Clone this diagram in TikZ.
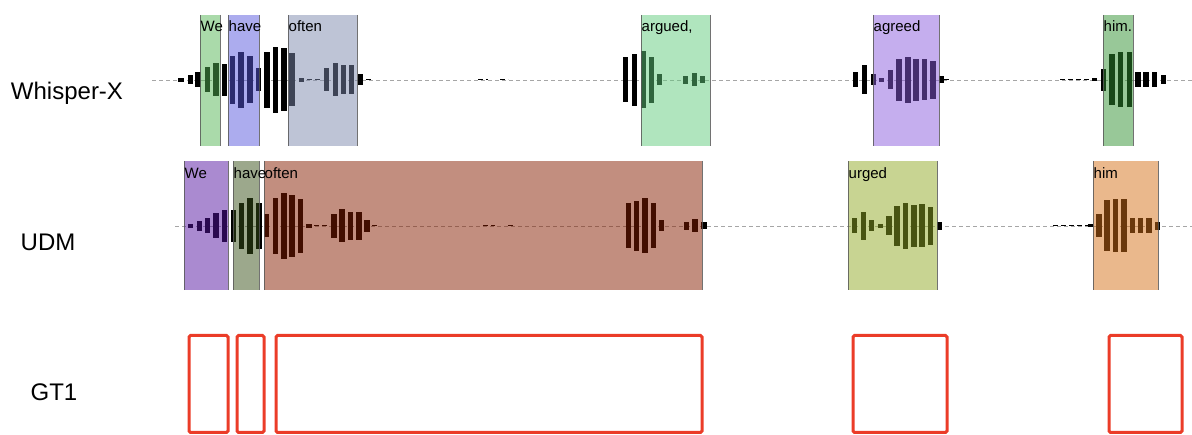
\documentclass[tikz,border=0pt]{standalone}
\usepackage{fontspec}
\setmainfont{Liberation Sans}
\definecolor{gtred}{RGB}{235,60,40}
\definecolor{wA}{RGB}{85,181,85}
\definecolor{wB}{RGB}{89,89,221}
\definecolor{wC}{RGB}{125,137,173}
\definecolor{wD}{RGB}{97,203,125}
\definecolor{wE}{RGB}{139,93,221}
\definecolor{wF}{RGB}{49,145,49}
\definecolor{uA}{RGB}{85,21,161}
\definecolor{uB}{RGB}{57,81,25}
\definecolor{uC}{RGB}{133,29,0}
\definecolor{uD}{RGB}{145,169,37}
\definecolor{uE}{RGB}{213,113,25}
\tikzset{
  baseline dash/.style={draw=black!35, line width=0.9pt, dash pattern=on 4pt off 3pt},
  trace/.style={draw=black, line width=1pt, dash pattern=on 5pt off 3pt},
  wordbox/.style={fill opacity=0.5},
  boxedge/.style={draw=black!65, line width=0.9pt, draw opacity=0.85},
  wordlabel/.style={anchor=base west, inner sep=0pt, font=\fontsize{15}{17}\selectfont},
  rowlabel/.style={inner sep=0pt, font=\fontsize{24}{28}\selectfont},
  gtbox/.style={draw=gtred, line width=3pt, rounded corners=1.5pt}
}
\newcommand\wavebars[2]{%
  \foreach \xx/\hh in {#2} \fill[black] (\xx-2.75,#1-\hh) rectangle (\xx+2.75,#1+\hh);}
\newcommand\wordrect[5]{% color, x1, y1, x2, y2
  \fill[wordbox, fill=#1] (#2,#3) rectangle (#4,#5);
  \draw[boxedge] (#2,#3) -- (#2,#5) (#4,#3) -- (#4,#5);}
\begin{document}
\begin{tikzpicture}[x=1pt,y=-1pt]
\useasboundingbox (0,0) rectangle (1192,435);
% ---------- row labels
\node[rowlabel] (lw) at (67,93) {Whisper-X};
\node[rowlabel] (lu) at (48,242) {UDM};
\node[rowlabel] (lg) at (54,392) {GT1};
% ---------- Whisper-X row
\draw[baseline dash] (152,80) -- (1192,80);
\draw[trace] (307,80) -- (321,80);
\draw[trace] (366,80) -- (373,80);
\draw[trace] (478,80) -- (488,80);
\draw[trace] (500,80) -- (508,80);
\draw[trace] (944,80) -- (951,80);
\draw[trace] (1060,80) -- (1092,80);
\wavebars{80}{181/2,190.5/4.5,198/7.5,207.5/12.5,216/16.5,224.5/16,232.5/24,241/28,250/23.5,258.5/11.5,267/28,275.5/33,284/31.5,292/26.5,301.5/2,326.5/11.5,335.5/16.5,343.5/14.5,351.5/14.5,360.5/5.5}
\wavebars{80}{625.5/22.5,634.5/26,643.5/28.5,651.5/23,659.5/5.5,685.5/4,694.5/6.5,702.5/3.5}
\wavebars{80}{855.5/7.5,864.5/14.5,873.5/5.5,881.5/2,890.5/9.5,899/21,908/23,916/21,924.5/20.5,933/19,941.5/3.5}
\wavebars{80}{1094.5/1.5,1103.5/11,1112/25.5,1120.5/27.5,1129.5/27.5,1138/7.5,1146/7.5,1154.5/7.5,1163.5/4.5}
\wordrect{wA}{200}{15}{220}{146}
\wordrect{wB}{228}{15}{259}{146}
\wordrect{wC}{288}{15}{357}{146}
\wordrect{wD}{641}{15}{710}{146}
\wordrect{wE}{873}{15}{939}{146}
\wordrect{wF}{1103}{15}{1133}{146}
\node[wordlabel] (w1) at (200.5,32) {We};
\node[wordlabel] (w2) at (228.5,32) {have};
\node[wordlabel] (w3) at (288.5,32) {often};
\node[wordlabel] (w4) at (641.5,32) {argued,};
\node[wordlabel] (w5) at (873.5,32) {agreed};
\node[wordlabel] (w6) at (1103.5,32) {him.};
% ---------- UDM row
\draw[baseline dash] (175,226) -- (1192,226);
\draw[trace] (314,226) -- (328,226);
\draw[trace] (372,226) -- (379,226);
\draw[trace] (483,226) -- (495,226);
\draw[trace] (508,226) -- (514,226);
\draw[trace] (1053,226) -- (1088,226);
\wavebars{226}{190.5/2,199.5/5,207.5/7.5,216/12.5,224.5/16,233.5/16,241.5/23,250/28,259/23,266.5/11.5,275.5/28,284/33,292/31,300.5/27,309/2,334/12,342/16.5,350.5/14,359/14,367/6}
\wavebars{226}{628.5/22.5,636.5/25,645/27.5,653.5/22.5,661.5/5.5,686.5/4,695/6.5,704/3.5}
\wavebars{226}{854.5/7.5,863.5/14,871.5/5.5,880.5/2,889/9.5,897/20,905.5/23,914/21,922/21.5,930.5/19,939.5/4}
\wavebars{226}{1090.5/1.5,1099/11.5,1107/25.5,1115.5/26.5,1124/26.5,1132.5/7.5,1140.5/7.5,1149/7.5,1157.5/4}
\wordrect{uA}{184}{161}{228}{290}
\wordrect{uB}{233}{161}{259}{290}
\wordrect{uC}{264}{161}{702}{290}
\wordrect{uD}{848}{161}{937}{290}
\wordrect{uE}{1093}{161}{1158}{290}
\node[wordlabel] (u1) at (184.5,179) {We};
\node[wordlabel] (u2) at (233.5,179) {have};
\node[wordlabel] (u3) at (264.5,179) {often};
\node[wordlabel] (u4) at (848.5,179) {urged};
\node[wordlabel] (u5) at (1093.5,179) {him};
% ---------- GT1 row
\draw[gtbox] (189,335.5) rectangle (228,432.5);
\draw[gtbox] (237,335.5) rectangle (264,432.5);
\draw[gtbox] (276,335.5) rectangle (702,432.5);
\draw[gtbox] (853,335.5) rectangle (947,432.5);
\draw[gtbox] (1109,335.5) rectangle (1182,432.5);
\end{tikzpicture}
\end{document}
